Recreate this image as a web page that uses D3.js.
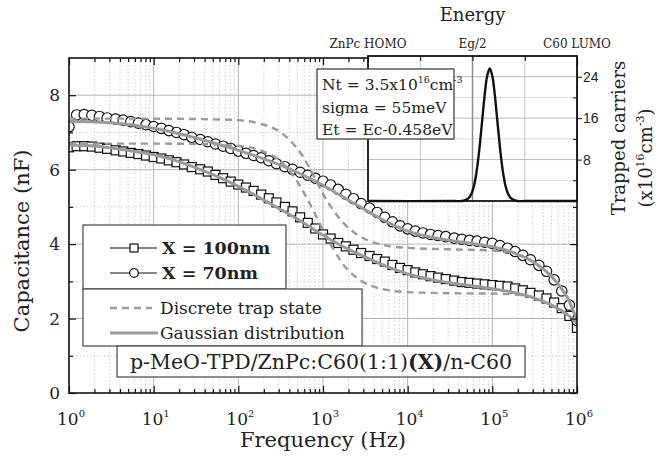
<!DOCTYPE html>
<html>
<head>
<meta charset="utf-8">
<script src="https://cdn.jsdelivr.net/npm/d3@7"></script>
<style>
  body { margin: 0; background: #fff; }
  svg { display: block; font-family: "DejaVu Serif", serif; }
</style>
</head>
<body>
<svg id="chart" width="661" height="461"></svg>
<script>
// measurement grid, log10(f / Hz)
const measLogF = [0, 0.09, 0.18, 0.27, 0.36, 0.45, 0.55, 0.64, 0.73, 0.82, 0.91,
  1, 1.09, 1.18, 1.27, 1.36, 1.45, 1.55, 1.64, 1.73, 1.82, 1.91,
  2, 2.09, 2.18, 2.27, 2.36, 2.45, 2.55, 2.64, 2.73, 2.82, 2.91,
  3, 3.09, 3.18, 3.27, 3.36, 3.45, 3.55, 3.64, 3.73, 3.82, 3.91,
  4, 4.09, 4.18, 4.27, 4.36, 4.45, 4.55, 4.64, 4.73, 4.82, 4.91,
  5, 5.09, 5.18, 5.27, 5.36, 5.45, 5.55, 5.64, 5.73, 5.82, 5.91,
  6];
// X = 70nm (circles), nF
const cap70 = [7.15, 7.47, 7.48, 7.46, 7.43, 7.39, 7.36, 7.33, 7.29, 7.25, 7.21,
  7.16, 7.11, 7.05, 7.00, 6.94, 6.87, 6.81, 6.75, 6.69, 6.63, 6.57,
  6.50, 6.44, 6.38, 6.32, 6.24, 6.16, 6.08, 6.01, 5.93, 5.85, 5.77,
  5.69, 5.59, 5.47, 5.34, 5.22, 5.09, 4.97, 4.85, 4.72, 4.60, 4.49,
  4.41, 4.35, 4.30, 4.26, 4.23, 4.20, 4.16, 4.13, 4.10, 4.08, 4.05,
  4.02, 3.96, 3.89, 3.80, 3.70, 3.58, 3.43, 3.27, 3.04, 2.74, 2.36,
  1.95];
// X = 100nm (squares), nF
const cap100 = [6.60, 6.63, 6.63, 6.62, 6.59, 6.56, 6.52, 6.49, 6.45, 6.42, 6.38,
  6.34, 6.30, 6.25, 6.20, 6.14, 6.07, 6.01, 5.95, 5.86, 5.77, 5.68,
  5.60, 5.52, 5.43, 5.33, 5.23, 5.12, 5.00, 4.88, 4.72, 4.57, 4.42,
  4.26, 4.15, 4.03, 3.94, 3.85, 3.76, 3.68, 3.60, 3.53, 3.44, 3.36,
  3.30, 3.24, 3.19, 3.14, 3.10, 3.06, 3.02, 2.98, 2.96, 2.94, 2.92,
  2.90, 2.88, 2.86, 2.81, 2.76, 2.69, 2.62, 2.54, 2.43, 2.28, 2.07,
  1.75];

// Gaussian distribution fits
const fitLogF = [0, 0.25, 0.5, 0.75, 1, 1.25, 1.5, 1.75, 2, 2.25, 2.5, 2.75, 3,
  3.25, 3.5, 3.75, 4, 4.25, 4.5, 4.75, 5, 5.25, 5.5, 5.75, 5.9, 6];
const fit70 = [7.30, 7.29, 7.26, 7.20, 7.11, 6.99, 6.85, 6.69, 6.52, 6.33, 6.12, 5.87, 5.58,
  5.25, 4.92, 4.60, 4.35, 4.20, 4.10, 4.02, 3.93, 3.77, 3.50, 3.00, 2.50, 1.95];
const fit100 = [6.66, 6.64, 6.58, 6.50, 6.40, 6.25, 6.05, 5.82, 5.55, 5.25, 4.93, 4.60, 4.24,
  3.92, 3.65, 3.40, 3.20, 3.06, 2.96, 2.88, 2.80, 2.70, 2.55, 2.30, 2.08, 1.87];

// discrete trap state model
const discLogF = [0, 1, 1.5, 2, 2.25, 2.5, 2.625, 2.75, 2.875, 3, 3.125, 3.25, 3.375,
  3.5, 3.75, 4, 4.5, 5, 5.25, 5.5, 5.75, 5.9, 6];
const disc70 = [7.37, 7.37, 7.36, 7.33, 7.24, 7.00, 6.75, 6.40, 5.90, 5.35, 4.90, 4.55, 4.30,
  4.13, 3.96, 3.90, 3.86, 3.83, 3.74, 3.50, 3.00, 2.50, 1.95];
const disc100 = [6.70, 6.70, 6.69, 6.64, 6.53, 6.22, 5.91, 5.48, 4.95, 4.38, 3.86, 3.42, 3.14,
  2.95, 2.77, 2.71, 2.68, 2.67, 2.65, 2.55, 2.30, 2.08, 1.87];

// inset: trap density vs energy (0 = ZnPc HOMO, 2 = Eg/2, 4 = C60 LUMO)
const energyPos = [0, 1.63, 1.83, 1.93, 1.98, 2.03, 2.08, 2.13, 2.18, 2.23, 2.28, 2.33,
  2.38, 2.43, 2.48, 2.53, 2.58, 2.63, 2.68, 2.73, 2.83, 3.03, 4];
const trapped = [0, 0, 0.05, 0.6, 1.4, 3.0, 5.8, 9.9, 15.0, 20.2, 24.1, 25.6,
  24.1, 20.2, 15.0, 9.9, 5.8, 3.0, 1.4, 0.6, 0.05, 0, 0];

const capTicks = [0, 2, 4, 6, 8];
const capMinor = [1, 3, 5, 7];
const freqTicks = [1, 10, 100, 1e3, 1e4, 1e5, 1e6];
const freqExp = ['0', '1', '2', '3', '4', '5', '6'];
const energyTicks = [0, 1, 2, 3, 4];
const energyLabels = ['ZnPc HOMO', '', 'Eg/2', '', 'C60 LUMO'];
const trappedTicks = [8, 16, 24];
const trappedMinor = [4, 12, 20];

const svg = d3.select('#chart');
const x = d3.scaleLog().domain([1, 1e6]).range([69, 577]);
const y = d3.scaleLinear().domain([0, 9]).range([393, 58]);
const [L, R] = x.range(), [B, T] = y.range();

const minorFreq = [];
for (let d = 0; d < 6; d++) for (let k = 2; k < 10; k++) minorFreq.push(k * 10 ** d);

// grid
const grid = svg.append('g');
grid.selectAll(null).data(minorFreq).enter().append('line')
  .attr('x1', d => x(d)).attr('x2', d => x(d)).attr('y1', T).attr('y2', B)
  .attr('stroke', '#c4c4c4').attr('stroke-width', 0.8).attr('stroke-dasharray', '1.5,2');
grid.selectAll(null).data(capMinor).enter().append('line')
  .attr('x1', L).attr('x2', R).attr('y1', d => y(d)).attr('y2', d => y(d))
  .attr('stroke', '#c4c4c4').attr('stroke-width', 0.8).attr('stroke-dasharray', '1.5,2');
grid.selectAll(null).data(freqTicks.slice(1, -1)).enter().append('line')
  .attr('x1', d => x(d)).attr('x2', d => x(d)).attr('y1', T).attr('y2', B)
  .attr('stroke', '#b4b4b4').attr('stroke-width', 1);
grid.selectAll(null).data(capTicks.slice(1)).enter().append('line')
  .attr('x1', L).attr('x2', R).attr('y1', d => y(d)).attr('y2', d => y(d))
  .attr('stroke', '#b4b4b4').attr('stroke-width', 1);

svg.append('clipPath').attr('id', 'clip').append('rect')
  .attr('x', L).attr('y', T).attr('width', R - L).attr('height', B - T);
const plot = svg.append('g').attr('clip-path', 'url(#clip)');

// markers
plot.selectAll(null).data(d3.zip(measLogF, cap100)).enter().append('rect')
  .attr('x', d => x(10 ** d[0]) - 4.5).attr('y', d => y(d[1]) - 4.5)
  .attr('width', 9).attr('height', 9)
  .attr('fill', '#fff').attr('stroke', '#111').attr('stroke-width', 1.2);
plot.selectAll(null).data(d3.zip(measLogF, cap70)).enter().append('circle')
  .attr('cx', d => x(10 ** d[0])).attr('cy', d => y(d[1])).attr('r', 5.2)
  .attr('fill', '#fff').attr('stroke', '#111').attr('stroke-width', 1.2);

// model curves
const line = d3.line().x(d => x(10 ** d[0])).y(d => y(d[1])).curve(d3.curveMonotoneX);
[disc70, disc100].forEach(s => plot.append('path').datum(d3.zip(discLogF, s))
  .attr('d', line).attr('fill', 'none').attr('stroke', '#9a9a9a')
  .attr('stroke-width', 2.4).attr('stroke-dasharray', '7,5'));
[fit70, fit100].forEach(s => plot.append('path').datum(d3.zip(fitLogF, s))
  .attr('d', line).attr('fill', 'none').attr('stroke', '#9a9a9a').attr('stroke-width', 3));

// frame and ticks
const ax = svg.append('g');
const noDomain = g => g.select('.domain').remove();
ax.append('g').attr('transform', `translate(0,${B})`)
  .call(d3.axisBottom(x).tickValues(freqTicks).tickSize(-7).tickFormat('')).call(noDomain);
ax.append('g').attr('transform', `translate(0,${B})`)
  .call(d3.axisBottom(x).tickValues(minorFreq).tickSize(-4).tickFormat('')).call(noDomain);
ax.append('g').attr('transform', `translate(0,${T})`)
  .call(d3.axisTop(x).tickValues(freqTicks).tickSize(-7).tickFormat('')).call(noDomain);
ax.append('g').attr('transform', `translate(0,${T})`)
  .call(d3.axisTop(x).tickValues(minorFreq).tickSize(-4).tickFormat('')).call(noDomain);
ax.append('g').attr('transform', `translate(${L},0)`)
  .call(d3.axisLeft(y).tickValues(capTicks).tickSize(-7).tickFormat('')).call(noDomain);
ax.append('g').attr('transform', `translate(${L},0)`)
  .call(d3.axisLeft(y).tickValues(capMinor).tickSize(-4).tickFormat('')).call(noDomain);
ax.append('g').attr('transform', `translate(${R},0)`)
  .call(d3.axisRight(y).tickValues(capTicks).tickSize(-7).tickFormat('')).call(noDomain);
ax.append('g').attr('transform', `translate(${R},0)`)
  .call(d3.axisRight(y).tickValues(capMinor).tickSize(-4).tickFormat('')).call(noDomain);
ax.selectAll('line').attr('stroke', '#111').attr('stroke-width', 1.2);
ax.append('rect').attr('x', L).attr('y', T).attr('width', R - L).attr('height', B - T)
  .attr('fill', 'none').attr('stroke', '#111').attr('stroke-width', 1.6);

// tick labels
svg.selectAll(null).data(capTicks).enter().append('text')
  .attr('x', L - 9).attr('y', d => y(d) + 6).attr('text-anchor', 'end')
  .attr('font-size', 17).attr('fill', '#222').text(d => d);
const fl = svg.selectAll(null).data(freqTicks).enter().append('text')
  .attr('x', d => x(d) + 2).attr('y', 425).attr('text-anchor', 'middle')
  .attr('font-size', 17).attr('fill', '#222');
fl.append('tspan').text('10');
fl.append('tspan').attr('dy', -8).attr('font-size', 10).text((d, i) => freqExp[i]);

svg.append('text').attr('x', (L + R) / 2).attr('y', 447).attr('text-anchor', 'middle')
  .attr('font-size', 21).attr('fill', '#222').text('Frequency (Hz)');
svg.append('text').attr('transform', 'translate(29,241) rotate(-90)').attr('text-anchor', 'middle')
  .attr('font-size', 21).attr('fill', '#222').text('Capacitance (nF)');

// inset
const ix = d3.scaleLinear().domain([0, 4]).range([368, 577]);
const iy = d3.scaleLinear().domain([0, 28]).range([201, 56]);
const [iL, iR] = ix.range(), [iB, iT] = iy.range();
const inset = svg.append('g');
inset.append('rect').attr('x', iL).attr('y', iT).attr('width', iR - iL).attr('height', iB - iT).attr('fill', '#fff');
inset.selectAll(null).data(trappedMinor).enter().append('line')
  .attr('x1', iL).attr('x2', iR).attr('y1', d => iy(d)).attr('y2', d => iy(d))
  .attr('stroke', '#dcdcdc').attr('stroke-width', 1);
inset.selectAll(null).data(trappedTicks).enter().append('line')
  .attr('x1', iL).attr('x2', iR).attr('y1', d => iy(d)).attr('y2', d => iy(d))
  .attr('stroke', '#b8b8b8').attr('stroke-width', 1);
inset.selectAll(null).data(energyTicks.slice(1, -1)).enter().append('line')
  .attr('x1', d => ix(d)).attr('x2', d => ix(d)).attr('y1', iT).attr('y2', iB)
  .attr('stroke', d => d === 2 ? '#8c8c8c' : '#c4c4c4').attr('stroke-width', d => d === 2 ? 1.5 : 1);
inset.append('path').datum(d3.zip(energyPos, trapped))
  .attr('d', d3.line().x(d => ix(d[0])).y(d => iy(d[1])).curve(d3.curveCatmullRom))
  .attr('fill', 'none').attr('stroke', '#111').attr('stroke-width', 2.4);
const iax = inset.append('g');
iax.append('g').attr('transform', `translate(${iR},0)`)
  .call(d3.axisRight(iy).tickValues(trappedTicks).tickSize(5).tickFormat('')).call(noDomain);
iax.append('g').attr('transform', `translate(${iR},0)`)
  .call(d3.axisRight(iy).tickValues(trappedMinor).tickSize(-4).tickFormat('')).call(noDomain);
iax.append('g').attr('transform', `translate(0,${iT})`)
  .call(d3.axisTop(ix).tickValues(energyTicks).tickSize(-5).tickFormat('')).call(noDomain);
iax.selectAll('line').attr('stroke', '#111');
inset.append('rect').attr('x', iL).attr('y', iT).attr('width', iR - iL).attr('height', iB - iT)
  .attr('fill', 'none').attr('stroke', '#111').attr('stroke-width', 1.8);
inset.selectAll(null).data(trappedTicks).enter().append('text')
  .attr('x', iR + 6).attr('y', d => iy(d) + 5).attr('font-family', '"Liberation Sans", Arial, sans-serif')
  .attr('font-size', 14).attr('fill', '#222').text(d => d);
inset.selectAll(null).data(energyTicks).enter().append('text')
  .attr('x', d => ix(d)).attr('y', 48).attr('text-anchor', 'middle')
  .attr('font-size', 12).attr('fill', '#222').text((d, i) => energyLabels[i]);
inset.append('text').attr('x', ix(2)).attr('y', 21).attr('text-anchor', 'middle')
  .attr('font-size', 18).attr('fill', '#222').text('Energy');
inset.append('text').attr('transform', 'translate(625,138) rotate(-90)').attr('text-anchor', 'middle')
  .attr('font-size', 18).attr('fill', '#222').text('Trapped carriers');
const u = inset.append('text').attr('transform', 'translate(652,158) rotate(-90)').attr('text-anchor', 'middle')
  .attr('font-size', 18).attr('fill', '#222');
u.append('tspan').text('(x10');
u.append('tspan').attr('dy', -8).attr('font-size', 11).text('16');
u.append('tspan').attr('dy', 8).text('cm');
u.append('tspan').attr('dy', -8).attr('font-size', 11).text('-3');
u.append('tspan').attr('dy', 8).text(')');

// parameter box
const pb = svg.append('g');
pb.append('rect').attr('x', 317).attr('y', 69).attr('width', 137).attr('height', 70)
  .attr('fill', '#fff').attr('stroke', '#333').attr('stroke-width', 1.2);
const p1 = pb.append('text').attr('x', 322).attr('y', 90).attr('font-size', 15.5).attr('fill', '#222');
p1.append('tspan').text('Nt = 3.5x10');
p1.append('tspan').attr('dy', -7).attr('font-size', 9.5).text('16');
p1.append('tspan').attr('dy', 7).text('cm');
p1.append('tspan').attr('dy', -7).attr('font-size', 9.5).text('-3');
pb.append('text').attr('x', 322).attr('y', 113).attr('font-size', 15.5).attr('fill', '#222').text('sigma = 55meV');
pb.append('text').attr('x', 322).attr('y', 135).attr('font-size', 15.5).attr('fill', '#222').text('Et = Ec-0.458eV');

// legends
const lg = svg.append('g');
lg.append('rect').attr('x', 83).attr('y', 225).attr('width', 203).attr('height', 64)
  .attr('fill', '#fff').attr('stroke', '#444').attr('stroke-width', 1.2);
lg.append('rect').attr('x', 83).attr('y', 289).attr('width', 279).attr('height', 57)
  .attr('fill', '#fff').attr('stroke', '#444').attr('stroke-width', 1.2);
lg.append('rect').attr('x', 117).attr('y', 346).attr('width', 408).attr('height', 31)
  .attr('fill', '#fff').attr('stroke', '#444').attr('stroke-width', 1.2);
[248, 273].forEach(yy => lg.append('line').attr('x1', 110).attr('x2', 157).attr('y1', yy).attr('y2', yy)
  .attr('stroke', '#111').attr('stroke-width', 1.2));
lg.append('rect').attr('x', 130).attr('y', 244).attr('width', 8).attr('height', 8)
  .attr('fill', '#fff').attr('stroke', '#111').attr('stroke-width', 1.2);
lg.append('circle').attr('cx', 134).attr('cy', 273).attr('r', 4.3)
  .attr('fill', '#fff').attr('stroke', '#111').attr('stroke-width', 1.2);
lg.append('text').attr('x', 162).attr('y', 254).attr('font-size', 17.5).attr('font-weight', 'bold')
  .attr('fill', '#222').text('X = 100nm');
lg.append('text').attr('x', 162).attr('y', 279).attr('font-size', 17.5).attr('font-weight', 'bold')
  .attr('fill', '#222').text('X = 70nm');
lg.append('line').attr('x1', 110).attr('x2', 152).attr('y1', 308).attr('y2', 308)
  .attr('stroke', '#9a9a9a').attr('stroke-width', 2.4).attr('stroke-dasharray', '7,5');
lg.append('line').attr('x1', 110).attr('x2', 158).attr('y1', 333).attr('y2', 333)
  .attr('stroke', '#9a9a9a').attr('stroke-width', 3);
lg.append('text').attr('x', 160).attr('y', 314).attr('font-size', 17).attr('fill', '#222').text('Discrete trap state');
lg.append('text').attr('x', 160).attr('y', 339).attr('font-size', 17).attr('fill', '#222').text('Gaussian distribution');
const st = lg.append('text').attr('x', 321).attr('y', 369).attr('text-anchor', 'middle')
  .attr('font-size', 20.5).attr('fill', '#222');
st.append('tspan').text('p-MeO-TPD/ZnPc:C60(1:1)');
st.append('tspan').attr('font-weight', 'bold').text('(X)');
st.append('tspan').text('/n-C60');
</script>
</body>
</html>
